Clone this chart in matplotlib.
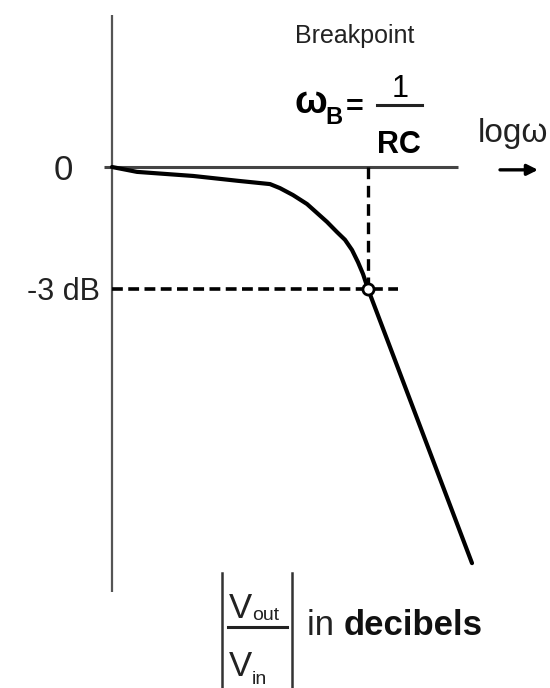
import numpy as np
import matplotlib
matplotlib.use("Agg")
import matplotlib.pyplot as plt

plt.rcParams['font.family'] = ['Liberation Sans', 'DejaVu Sans']

# log-frequency relative to the breakpoint (decades, schematic) and gain in dB
log_w = [-2.56, -2.31, -1.75, -1.30, -0.98, -0.88, -0.75, -0.61, -0.51, -0.41,
         -0.31, -0.23, -0.16, -0.10, -0.05, 0.0, 1.04]
gain_db = [0.0, -0.12, -0.22, -0.34, -0.42, -0.52, -0.69, -0.91, -1.13, -1.35,
           -1.60, -1.79, -2.04, -2.34, -2.63, -3.0, -9.74]

break_w = 0.0
break_db = -3.0
y_ticks = [0, -3]
y_labels = ['0', '-3 dB']

fig = plt.figure(figsize=(5.5, 6.88), dpi=100)
ax = fig.add_axes([0, 0, 1, 1])
ax.set_xlim(-3.68, 1.82)
ax.set_ylim(-12.81, 4.106)
ax.axis('off')
renderer = fig.canvas.get_renderer()


def text_after(prev, y, s, **kw):
    """Put a text right after the end of another one, on the given baseline."""
    bb = prev.get_window_extent(renderer)
    x = ax.transData.inverted().transform((bb.x1, bb.y0))[0]
    return ax.text(x, y, s, ha='left', va='baseline', **kw)


# axes of the sketch
ax.plot([-2.64, 0.90], [0, 0], color='#444444', lw=2.2, solid_capstyle='butt')
ax.plot([-2.56, -2.56], [3.74, -10.45], color='#555555', lw=1.6, solid_capstyle='butt')

# guide lines to the breakpoint
ax.plot([-2.56, 0.30], [break_db, break_db], color='black', lw=2.6,
        linestyle=(0, (3, 1.5)))
ax.plot([break_w, break_w], [0, break_db], color='black', lw=2.4,
        linestyle=(0, (3.5, 2)))

# response curve
ax.plot(log_w, gain_db, color='black', lw=3.0, solid_capstyle='round',
        solid_joinstyle='round')
ax.plot([break_w], [break_db], 'o', ms=8, mfc='white', mec='black', mew=2.0, zorder=5)

# tick labels
ax.text(-2.95, y_ticks[0] - 0.08, y_labels[0], ha='right', va='center',
        fontsize=25, color='#222222')
ax.text(-2.68, y_ticks[1] - 0.08, y_labels[1], ha='right', va='center',
        fontsize=22, color='#222222')

# breakpoint annotation
ax.text(-0.13, 3.05, 'Breakpoint', ha='center', va='baseline', fontsize=18, color='#222222')
ax.text(-0.57, 1.32, 'ω', ha='center', va='baseline', fontsize=28, fontweight='bold')
ax.text(-0.43, 1.05, 'B', ha='left', va='baseline', fontsize=17, fontweight='bold')
ax.text(-0.13, 1.25, '=', ha='center', va='baseline', fontsize=22, fontweight='bold')
ax.text(0.32, 1.72, '1', ha='center', va='baseline', fontsize=22)
ax.plot([0.09, 0.54], [1.52, 1.52], color='#222222', lw=2.2)
ax.text(0.31, 0.34, 'RC', ha='center', va='baseline', fontsize=22, fontweight='bold')

# frequency axis label with arrow
ax.text(1.10, 0.61, 'logω', ha='left', va='baseline', fontsize=24, color='#222222')
ax.annotate('', xy=(1.70, -0.07), xytext=(1.32, -0.07),
            arrowprops=dict(arrowstyle='-|>', color='black', lw=2.4,
                            mutation_scale=16, shrinkA=0, shrinkB=0))

# |Vout/Vin| in decibels
ax.plot([-1.46, -1.46], [-9.98, -12.9], color='#333333', lw=1.8)
ax.plot([-0.76, -0.76], [-9.98, -12.9], color='#333333', lw=1.8)
ax.plot([-1.40, -0.81], [-11.31, -11.31], color='#222222', lw=2.2)
v_out = ax.text(-1.39, -11.09, 'V', ha='left', va='baseline', fontsize=25, color='#222222')
text_after(v_out, -11.14, 'out', fontsize=14, color='#222222')
v_in = ax.text(-1.39, -12.52, 'V', ha='left', va='baseline', fontsize=25, color='#222222')
text_after(v_in, -12.70, 'in', fontsize=14, color='#222222')
in_txt = ax.text(-0.61, -11.51, 'in ', ha='left', va='baseline', fontsize=25,
                 color='#222222')
text_after(in_txt, -11.51, 'decibels', fontsize=25, fontweight='bold', color='#111111')

fig.savefig('out.png', dpi=100)
